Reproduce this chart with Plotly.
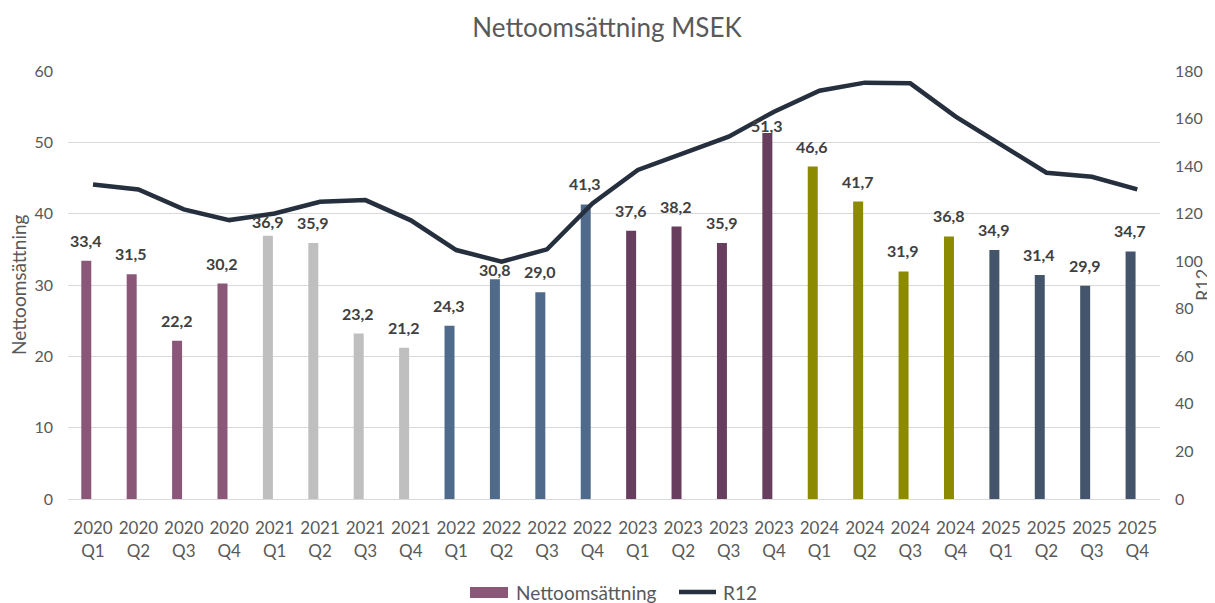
import plotly.graph_objects as go

years = ["2020"] * 4 + ["2021"] * 4 + ["2022"] * 4 + ["2023"] * 4 + ["2024"] * 4 + ["2025"] * 4
quarters = ["Q1", "Q2", "Q3", "Q4"] * 6
categories = [f"{y}<br>{q}" for y, q in zip(years, quarters)]

netto = [33.4, 31.5, 22.2, 30.2,
         36.9, 35.9, 23.2, 21.2,
         24.3, 30.8, 29.0, 41.3,
         37.6, 38.2, 35.9, 51.3,
         46.6, 41.7, 31.9, 36.8,
         34.9, 31.4, 29.9, 34.7]

r12 = [132.3, 130.2, 121.8, 117.3,
       120.1, 125.0, 125.7, 117.2,
       104.7, 99.8, 105.0, 124.3,
       138.4, 145.4, 152.4, 162.9,
       171.7, 175.1, 174.8, 160.8,
       148.9, 137.2, 135.5, 130.2]

year_colors = {"2020": "#8B5779", "2021": "#BFBFBF", "2022": "#4F6A8B",
               "2023": "#673E5D", "2024": "#8C8A00", "2025": "#44546A"}
bar_colors = [year_colors[y] for y in years]
labels = ["<b>" + f"{v:.1f}".replace(".", ",") + "</b>" for v in netto]

# label gap above bar (px); a few labels sit lower in the original
label_gap = [9] * 24
label_gap[4] = 3    # 2021 Q1
label_gap[9] = -2   # 2022 Q2
label_gap[15] = -4  # 2023 Q4

FONT = "Lato, 'Open Sans', sans-serif"
GREY = "#595959"
LINE = "#262F3D"

# page body has an 8px margin; plot area placed to land at 68..1160 x 71..499 on screen
W, H = 1215, 603
L, R, T, B = 60, 63, 63, 112
PW, PH = W - L - R, H - T - B


def fx(px):
    return (px - 8 - L) / PW


def fy(py):
    return (H - B - (py - 8)) / PH


fig = go.Figure()
fig.add_trace(go.Bar(
    x=categories, y=netto, name="Nettoomsättning",
    marker=dict(color=bar_colors, line=dict(width=0)),
    width=0.22, offset=-0.258, showlegend=False,
    yaxis="y",
))
fig.add_trace(go.Scatter(
    x=categories, y=r12, name="R12", mode="lines",
    line=dict(color=LINE, width=4.5), showlegend=False,
    yaxis="y2",
))

annotations = []
for c, v, t, g in zip(categories, netto, labels, label_gap):
    annotations.append(dict(
        x=c, y=v, xref="x", yref="y", text=t, showarrow=False,
        xanchor="center", yanchor="bottom", xshift=-7, yshift=g,
        font=dict(family=FONT, size=16, color="#404040")))

annotations += [
    dict(text="Nettoomsättning", xref="paper", yref="paper", x=fx(18), y=0.5,
         xanchor="center", yanchor="middle", textangle=-90, showarrow=False,
         font=dict(family=FONT, size=19, color=GREY)),
    dict(text="R12", xref="paper", yref="paper", x=fx(1202), y=0.5,
         xanchor="center", yanchor="middle", textangle=-90, showarrow=False,
         font=dict(family=FONT, size=18, color=GREY)),
    dict(text="Nettoomsättning", xref="paper", yref="paper", x=fx(514), y=fy(592),
         xanchor="left", yanchor="middle", showarrow=False,
         font=dict(family=FONT, size=19, color=GREY)),
    dict(text="R12", xref="paper", yref="paper", x=fx(721), y=fy(592),
         xanchor="left", yanchor="middle", showarrow=False,
         font=dict(family=FONT, size=19, color=GREY)),
]

shapes = [
    dict(type="rect", xref="paper", yref="paper", x0=fx(470), x1=fx(508),
         y0=fy(598), y1=fy(587), fillcolor=year_colors["2020"], line=dict(width=0)),
    dict(type="line", xref="paper", yref="paper", x0=fx(679), x1=fx(716),
         y0=fy(592), y1=fy(592), line=dict(color=LINE, width=4.5)),
]

fig.update_layout(
    width=W, height=H,
    margin=dict(l=L, r=R, t=T, b=B, autoexpand=False),
    paper_bgcolor="white", plot_bgcolor="white",
    title=dict(text="Nettoomsättning MSEK", x=(607 - 8) / W, xanchor="center",
               y=1 - 20 / H, yanchor="middle",
               font=dict(family=FONT, size=26, color=GREY)),
    font=dict(family=FONT, color=GREY),
    showlegend=False,
    xaxis=dict(type="category", showgrid=False, showline=True, linecolor="#D9D9D9",
               linewidth=1, ticks="", automargin=False, ticklabelstandoff=14,
               tickfont=dict(family=FONT, size=17, color=GREY)),
    yaxis=dict(range=[0, 60], dtick=10, showgrid=True, gridcolor="#D9D9D9", gridwidth=1,
               zeroline=False, ticks="", automargin=False, ticklabelstandoff=14,
               tickfont=dict(family=FONT, size=16, color=GREY)),
    yaxis2=dict(range=[0, 180], dtick=20, overlaying="y", side="right", showgrid=False,
                zeroline=False, ticks="", automargin=False, ticklabelstandoff=14,
                tickfont=dict(family=FONT, size=16, color=GREY)),
    annotations=annotations,
    shapes=shapes,
)

fig.write_html("out.html")
